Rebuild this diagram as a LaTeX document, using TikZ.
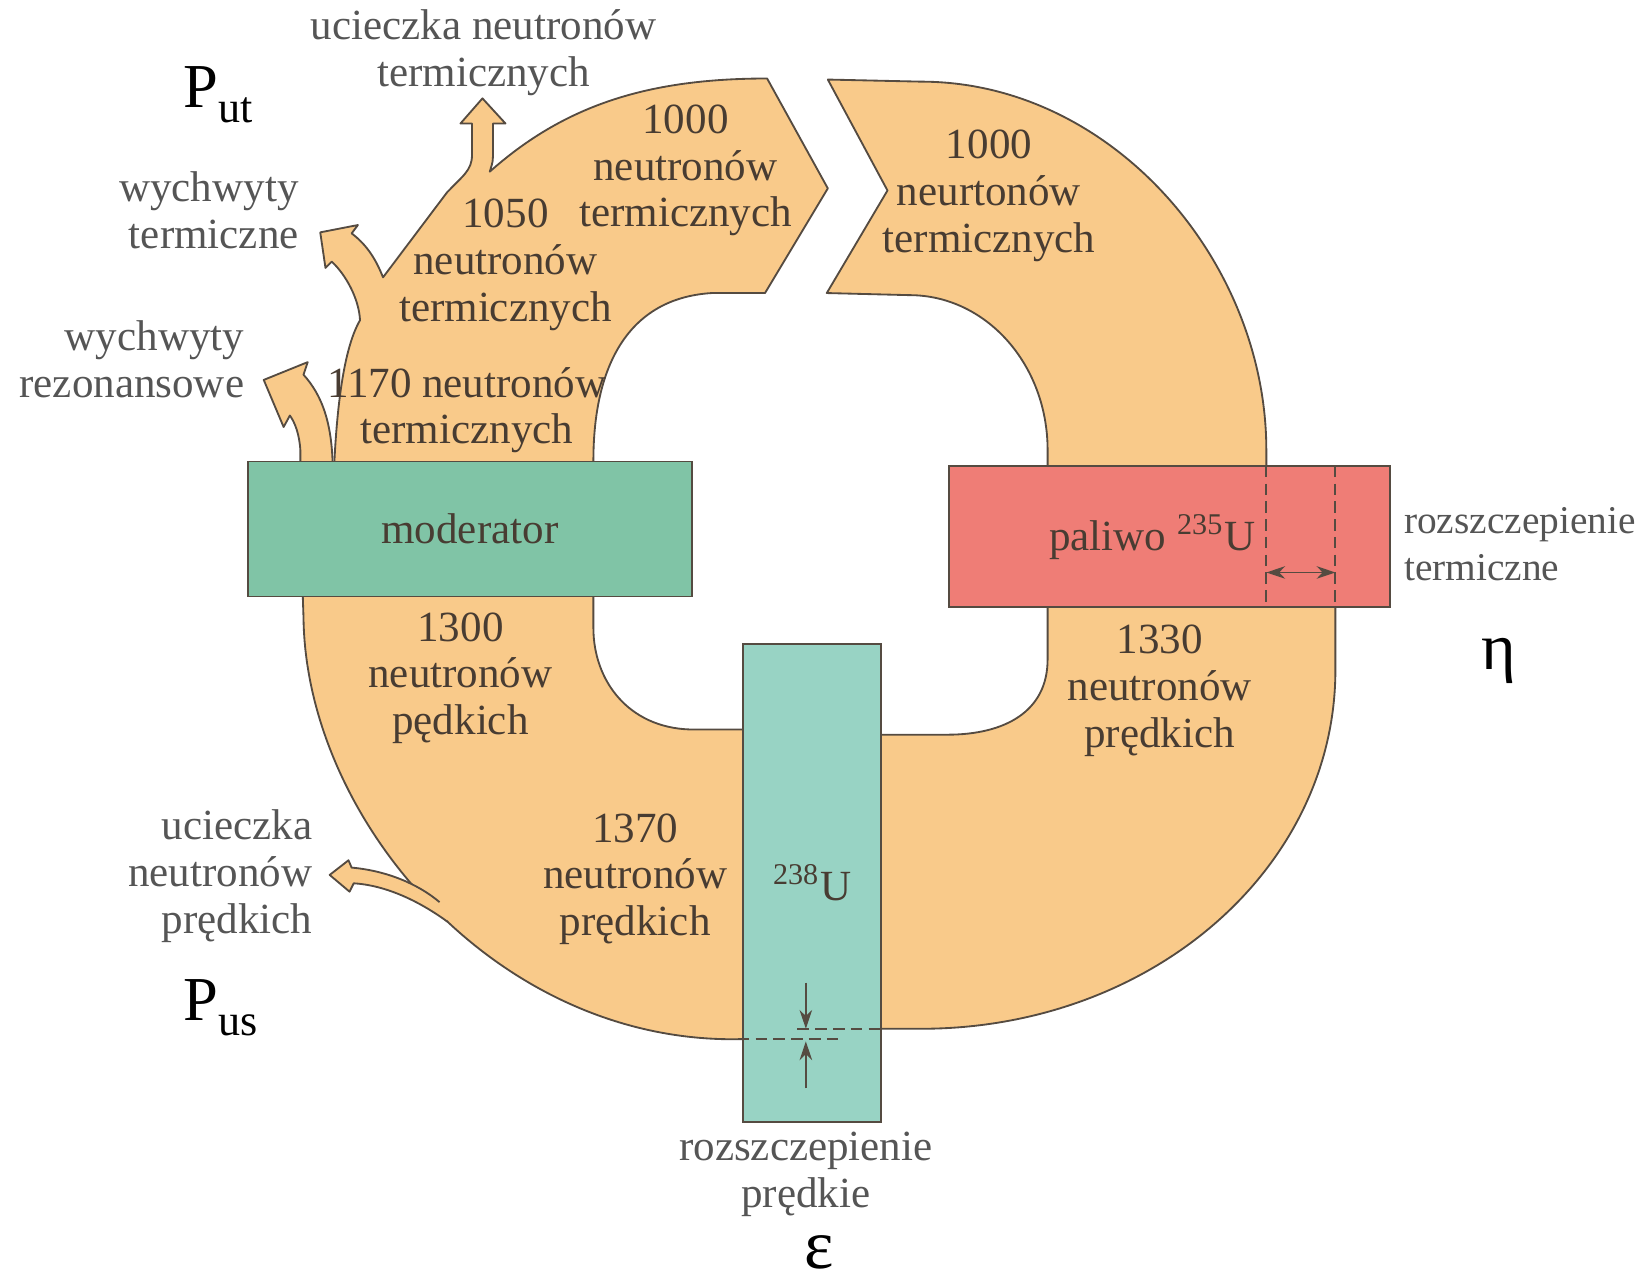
\documentclass[tikz,border=0pt]{standalone}
\usepackage{fontspec}
\setmainfont{Liberation Serif}
\usetikzlibrary{arrows.meta}
\definecolor{band}{RGB}{249,202,138}
\definecolor{modgreen}{RGB}{128,196,166}
\definecolor{ugreen}{RGB}{152,211,196}
\definecolor{fuelred}{RGB}{239,125,118}
\definecolor{edge}{RGB}{85,75,65}
\definecolor{labgray}{RGB}{85,85,85}
\definecolor{numtext}{RGB}{72,60,50}
\begin{document}
\begin{tikzpicture}[x=0.1mm,y=-0.1mm,
flow/.style={%
fill=band,
draw=edge,
line width=0.5pt,
line join=round
},
box/.style={%
draw=edge,
line width=0.5pt,
inner sep=0pt,
text=numtext,
font=\fontsize{11.7}{12.7}\selectfont
},
num/.style={%
align=center,
inner sep=0pt,
text=numtext,
font=\fontsize{11.7}{12.7}\selectfont
},
lab/.style={%
inner sep=0pt,
text=labgray,
font=\fontsize{11.7}{12.7}\selectfont
},
sym/.style={%
inner sep=0pt,
font=\fontsize{17}{20}\selectfont
},
cut/.style={%
draw=edge,
line width=0.5pt,
dash pattern=on 1.1mm off 0.6mm
},
dim/.style={%
draw=edge,
line width=0.5pt
},
]
\useasboundingbox (0,0) rectangle (1568,1222);
%% Flow of thermal neutrons (upper left)
\draw[flow] (319,452) .. controls (322,380) and (330,330) .. (344,306)
 .. controls (343,285) and (330,262) .. (317,250) -- (311,256) -- (306,222) -- (342,215) -- (336,223)
 .. controls (352,235) and (360,250) .. (366,265) -- (427,184)
 .. controls (442,168) and (451,163) .. (451,148) -- (451,118) -- (440,118) -- (461,94) -- (483,118) -- (471,118) -- (471,150)
 .. controls (471,156) and (469,160) .. (468,164)
 .. controls (540,100) and (620,75) .. (733,75) -- (791,180) -- (731,280) -- (680,280)
 .. controls (600,285) and (567,350) .. (567,440) -- (567,452) -- cycle;
%% resonance capture
\draw[flow] (287,452) -- (287,430) .. controls (286,415) and (282,404) .. (277,397) -- (271,408) -- (252,363) -- (294,346) -- (290,358)
 .. controls (308,378) and (318,405) .. (318,452) -- cycle;
%% Flow of thermal neutrons (upper right)
\draw[flow] (791,76) -- (880,78) .. controls (1062,78) and (1210,249) .. (1210,430) -- (1210,460) -- (1001,460) -- (1001,430)
 .. controls (1001,348) and (942,282) .. (869,282) -- (790,280) -- (848,182) -- cycle;
%% Flow of fast neutrons (lower right)
\draw[flow] (1001,570) -- (1001,630) .. controls (1001,680) and (960,702) .. (905,702) -- (835,702) -- (835,983) -- (880,983)
 .. controls (1100,983) and (1276,830) .. (1276,640) -- (1276,570) -- cycle;
%% Flow of fast neutrons (lower left)
\draw[flow] (718,697) -- (659,697) .. controls (600,695) and (567,650) .. (567,600) -- (567,560) -- (289,560) -- (290,590)
 .. controls (292,780) and (470,993) .. (700,993) -- (718,993) -- cycle;
%% fast leakage
\fill[band] (420,862) .. controls (400,845) and (370,832) .. (336,829) -- (333,822) -- (315,836) -- (334,852) -- (338,844)
 .. controls (370,846) and (402,862) .. (428,881) -- cycle;
\draw[dim,line join=round] (420,862) .. controls (400,845) and (370,832) .. (336,829) -- (333,822) -- (315,836) -- (334,852) -- (338,844)
 .. controls (370,846) and (402,862) .. (428,881);
%% Boxes
\node[box,fill=modgreen,minimum width=42.4mm,minimum height=12.9mm](mod)at(449,505.5){moderator};
\node[box,fill=fuelred,minimum width=42.1mm,minimum height=13.5mm](fuel)at(1117.5,512.5){};
\node[box,fill=ugreen,minimum width=13.2mm,minimum height=45.7mm](u238)at(776,843.5){\textsuperscript{238}U};
%% Thermal fission
\coordinate(c1t)at(1210,445);
\coordinate(c1b)at(1210,580);
\coordinate(c2t)at(1276,445);
\coordinate(c2b)at(1276,580);
\coordinate(thL)at(1210,547);
\coordinate(thR)at(1276,547);
\draw[cut] (c1t)--(c1b);
\draw[cut] (c2t)--(c2b);
\draw[dim,{Stealth[length=1.8mm,width=1.2mm]}-{Stealth[length=1.8mm,width=1.2mm]}] (thL)--(thR);
%% Fast fission
\coordinate(f1a)at(762,983);
\coordinate(f1b)at(842,983);
\coordinate(f2a)at(705,993);
\coordinate(f2b)at(805,993);
\coordinate(fdt)at(770,939);
\coordinate(fdb)at(770,1040);
\coordinate(fu1)at(770,983);
\coordinate(fu2)at(770,995);
\draw[cut] (f1a)--(f1b);
\draw[cut] (f2a)--(f2b);
\draw[dim,-{Stealth[length=1.8mm,width=1.2mm]}] (fdt)--(fu1);
\draw[dim,-{Stealth[length=1.8mm,width=1.2mm]}] (fdb)--(fu2);
%% Labels inside
\node[num](pal)at(1101,513){paliwo \textsuperscript{235}U};
\node[num](n1000a)at(655,163){1000\\neutronów\\termicznych};
\node[num](n1050)at(483,253){1050\\neutronów\\termicznych};
\node[num](n1170)at(446,392){1170 neutronów\\termicznych};
\node[num](n1000b)at(945,187){1000\\neurtonów\\termicznych};
\node[num](n1300)at(440,648){1300\\neutronów\\pędkich};
\node[num](n1330)at(1108,660){1330\\neutronów\\prędkich};
\node[num](n1370)at(607,840){1370\\neutronów\\prędkich};
%% Labels outside
\node[lab,align=center](leakT)at(462,50){ucieczka neutronów\\termicznych};
\node[lab,align=right,anchor=east](capT)at(286,201){wychwyty\\termiczne};
\node[lab,align=right,anchor=east](capR)at(234,343){wychwyty\\rezonansowe};
\node[lab,align=right,anchor=east](leakF)at(299,837){ucieczka\\neutronów\\prędkich};
\node[lab,align=left,anchor=west,font=\fontsize{10.7}{12.7}\selectfont](fisT)at(1341,520){rozszczepienie\\termiczne};
\node[lab,align=center](fisF)at(770,1122){rozszczepienie\\prędkie};
%% Factors
\node[sym,anchor=base west](Put)at(175,103){P\raisebox{-4pt}{\fontsize{12}{14}\selectfont ut}};
\node[sym,anchor=base west](Pus)at(175,975){P\raisebox{-4pt}{\fontsize{12}{14}\selectfont us}};
\node[sym,anchor=base,font=\fontsize{18}{20}\selectfont](eta)at(1432,640){η};
\node[sym,anchor=base,text height=0.5em,text depth=0pt,font=\fontsize{19}{21}\selectfont](eps)at(783,1212){ε};
\end{tikzpicture}
\end{document}
